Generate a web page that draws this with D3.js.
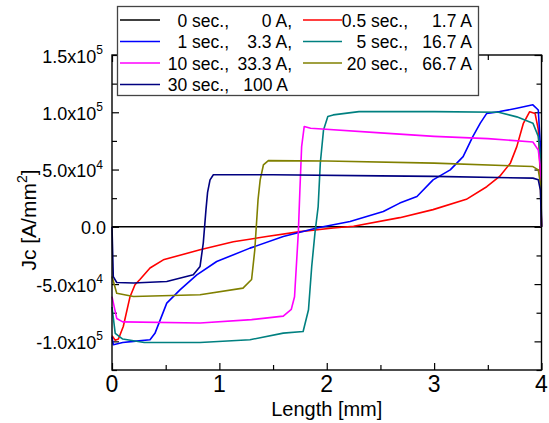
<!DOCTYPE html>
<html>
<head>
<meta charset="utf-8">
<script src="https://cdn.jsdelivr.net/npm/d3@7"></script>
<style>
  body { margin: 0; background: #fff; }
  text { font-family: "Liberation Sans", Arial, sans-serif; fill: #000; }
</style>
</head>
<body>
<svg id="chart"></svg>
<script>
// values, Jc in A/mm^2, length in mm
var seriesNames = ["0 sec.", "0.5 sec.", "1 sec.", "5 sec.", "10 sec.", "20 sec.", "30 sec."];
var seriesColors = ["#000000", "#ff0000", "#0000ff", "#008080", "#ff00ff", "#808000", "#000080"];
var legendTime = ["0 sec.,", "0.5 sec.,", "1 sec.,", "5 sec.,", "10 sec.,", "20 sec.,", "30 sec.,"];
var legendCurrent = ["0 A,", "1.7 A", "3.3 A,", "16.7 A", "33.3 A,", "66.7 A", "100 A"];

var x0s = [0, 4];
var y0s = [0, 0];

var x05 = [0, 0.03, 0.06, 0.105, 0.168, 0.214, 0.26, 0.354, 0.478, 0.82, 1.13, 1.44, 1.75, 2.06, 2.25, 2.68, 2.99, 3.3, 3.49, 3.61, 3.71, 3.77, 3.83, 3.89, 3.94, 3.97, 3.99, 4.0];
var y05 = [-95000, -99000, -98000, -87000, -61000, -50600, -46000, -36000, -28800, -20000, -13000, -8500, -4200, -1000, 500, 8000, 15000, 24000, 35000, 44000, 55600, 70000, 90000, 100500, 99000, 85000, 41000, 0];

var x1s = [0, 0.012, 0.1, 0.2, 0.354, 0.40, 0.51, 0.633, 0.79, 0.975, 1.285, 1.595, 1.906, 2.217, 2.527, 2.68, 2.84, 2.99, 3.15, 3.27, 3.36, 3.43, 3.49, 3.61, 3.77, 3.92, 3.97, 3.99, 4.0];
var y1s = [-96000, -103000, -101000, -100000, -98600, -93000, -66600, -55000, -42000, -30300, -18600, -8500, -1100, 4600, 13400, 20700, 26500, 41000, 49700, 61300, 78800, 90500, 99000, 100600, 103500, 106500, 102000, 70000, 0];

var x5s = [0, 0.03, 0.1, 0.3, 0.82, 1.285, 1.595, 1.78, 1.83, 1.86, 1.89, 1.92, 1.94, 1.97, 2.01, 2.06, 2.3, 3.0, 3.6, 3.77, 3.92, 3.97, 3.99, 4.0];
var y5s = [-70000, -93000, -98000, -101000, -101000, -98600, -92800, -91400, -72400, -34600, -5500, 17700, 55600, 84600, 96300, 97700, 100600, 100600, 100000, 96000, 90500, 79000, 61000, 0];

var x10s = [0, 0.044, 0.1, 0.82, 1.3, 1.595, 1.67, 1.70, 1.735, 1.75, 1.766, 1.79, 1.85, 2.5, 3.0, 3.5, 3.92, 3.97, 3.99, 4.0];
var y10s = [-61000, -80000, -83000, -84000, -81000, -78000, -72000, -61000, -5500, 32300, 70000, 87500, 86000, 82000, 79000, 77000, 74000, 67000, 52600, 0];

var x20s = [0, 0.044, 0.2, 0.82, 1.22, 1.30, 1.33, 1.36, 1.38, 1.41, 1.456, 2.0, 3.0, 3.92, 3.97, 3.99, 4.0];
var y20s = [-43400, -58000, -60800, -59300, -53500, -46000, -20000, 23600, 41000, 54000, 57800, 57500, 55600, 52600, 49700, 38000, 0];

var x30s = [0, 0.012, 0.044, 0.2, 0.51, 0.757, 0.82, 0.85, 0.875, 0.89, 0.913, 0.944, 1.5, 2.5, 3.0, 3.92, 3.97, 3.99, 4.0];
var y30s = [0, -43400, -48600, -49000, -47700, -41900, -34600, -14200, 14800, 30000, 41000, 45400, 45400, 44500, 44000, 42500, 41000, 32000, 0];

var seriesX = [x0s, x05, x1s, x5s, x10s, x20s, x30s];
var seriesY = [y0s, y05, y1s, y5s, y10s, y20s, y30s];

var yTicks = [-100000, -50000, 0, 50000, 100000, 150000];
var yTickMain = ["-1.0x10", "-5.0x10", "0.0", "5.0x10", "1.0x10", "1.5x10"];
var yTickExp = ["5", "4", "", "4", "5", "5"];
var xTicks = [0, 1, 2, 3, 4];

var width = 549, height = 423;
var margin = { left: 112, right: 7.5, top: 55, bottom: 53 };

var svg = d3.select("#chart").attr("width", width).attr("height", height);

var x = d3.scaleLinear().domain([0, 4]).range([margin.left, width - margin.right]);
var y = d3.scaleLinear().domain([-125000, 150000]).range([height - margin.bottom, margin.top]);

// minor and major ticks, all pointing inward
var xMinor = d3.range(0.5, 4, 1);
var yMinor = d3.range(-125000, 150001, 50000);

function noDomain(g) { g.select(".domain").remove(); }

svg.append("g")
    .attr("transform", "translate(0," + y.range()[0] + ")")
    .call(d3.axisBottom(x).tickValues(xTicks).tickSize(-7).tickFormat(""))
    .call(noDomain);
svg.append("g")
    .attr("transform", "translate(0," + y.range()[0] + ")")
    .call(d3.axisBottom(x).tickValues(xMinor).tickSize(-5).tickFormat(""))
    .call(noDomain);
svg.append("g")
    .attr("transform", "translate(0," + y.range()[1] + ")")
    .call(d3.axisTop(x).tickValues(xTicks).tickSize(-7).tickFormat(""))
    .call(noDomain);
svg.append("g")
    .attr("transform", "translate(0," + y.range()[1] + ")")
    .call(d3.axisTop(x).tickValues(xMinor).tickSize(-5).tickFormat(""))
    .call(noDomain);

svg.append("g")
    .attr("transform", "translate(" + x.range()[0] + ",0)")
    .call(d3.axisLeft(y).tickValues(yTicks).tickSize(-7).tickFormat(""))
    .call(noDomain);
svg.append("g")
    .attr("transform", "translate(" + x.range()[0] + ",0)")
    .call(d3.axisLeft(y).tickValues(yMinor).tickSize(-5).tickFormat(""))
    .call(noDomain);
svg.append("g")
    .attr("transform", "translate(" + x.range()[1] + ",0)")
    .call(d3.axisRight(y).tickValues(yTicks).tickSize(-7).tickFormat(""))
    .call(noDomain);
svg.append("g")
    .attr("transform", "translate(" + x.range()[1] + ",0)")
    .call(d3.axisRight(y).tickValues(yMinor).tickSize(-5).tickFormat(""))
    .call(noDomain);

svg.selectAll(".tick line").attr("stroke", "#000").attr("stroke-width", 1.2);

// data lines
var line = d3.line()
    .x(function (d) { return x(d[0]); })
    .y(function (d) { return y(d[1]); });

seriesNames.forEach(function (name, i) {
    var pts = seriesX[i].map(function (v, j) { return [v, seriesY[i][j]]; });
    svg.append("path")
        .datum(pts)
        .attr("class", "series")
        .attr("fill", "none")
        .attr("stroke", seriesColors[i])
        .attr("stroke-width", 1.6)
        .attr("stroke-linejoin", "round")
        .attr("d", line);
});

// frame
svg.append("rect")
    .attr("x", x.range()[0])
    .attr("y", y.range()[1])
    .attr("width", x.range()[1] - x.range()[0])
    .attr("height", y.range()[0] - y.range()[1])
    .attr("fill", "none")
    .attr("stroke", "#000")
    .attr("stroke-width", 1.4);

// tick labels
var xLab = svg.append("g");
xTicks.forEach(function (t) {
    xLab.append("text")
        .attr("x", x(t))
        .attr("y", 392)
        .attr("text-anchor", "middle")
        .style("font-size", "23px")
        .text(t);
});

var yLab = svg.append("g");
yTicks.forEach(function (t, i) {
    var txt = yLab.append("text")
        .attr("x", yTickExp[i] ? 103 : 106)
        .attr("y", y(t) + 7.5)
        .attr("text-anchor", "end")
        .style("font-size", "18px");
    txt.append("tspan").text(yTickMain[i]);
    if (yTickExp[i]) {
        txt.append("tspan")
            .attr("dy", -8.5)
            .style("font-size", "12px")
            .text(yTickExp[i]);
    }
});

// axis titles
svg.append("text")
    .attr("x", (x.range()[0] + x.range()[1]) / 2)
    .attr("y", 416)
    .attr("text-anchor", "middle")
    .style("font-size", "20px")
    .text("Length [mm]");

var yTitle = svg.append("text")
    .attr("transform", "translate(36,220) rotate(-90)")
    .attr("text-anchor", "middle")
    .style("font-size", "21px");
yTitle.append("tspan").text("Jc [A/mm");
yTitle.append("tspan").attr("dy", -9).style("font-size", "14px").text("2");
yTitle.append("tspan").attr("dy", 9).text("]");

// legend
var legend = svg.append("g");
legend.append("rect")
    .attr("x", 117.5)
    .attr("y", 6.5)
    .attr("width", 361)
    .attr("height", 89)
    .attr("fill", "#fff")
    .attr("stroke", "#444")
    .attr("stroke-width", 1.3);

var colLine = [[120, 160], [303, 342]];
var colTime = [229, 408];
var colCurr = [292, 472];

seriesNames.forEach(function (name, i) {
    var col = i % 2, row = Math.floor(i / 2);
    var ly = 20 + row * 21.5;
    legend.append("line")
        .attr("x1", colLine[col][0]).attr("x2", colLine[col][1])
        .attr("y1", ly).attr("y2", ly)
        .attr("stroke", seriesColors[i])
        .attr("stroke-width", 1.6);
    legend.append("text")
        .attr("x", colTime[col])
        .attr("y", ly + 6.5)
        .attr("text-anchor", "end")
        .style("font-size", "17.5px")
        .text(legendTime[i]);
    var hasComma = legendCurrent[i].slice(-1) === ",";
    legend.append("text")
        .attr("x", colCurr[col] - (col === 0 && !hasComma ? 4 : 0))
        .attr("y", ly + 6.5)
        .attr("text-anchor", "end")
        .style("font-size", "17.5px")
        .text(legendCurrent[i]);
});
</script>
</body>
</html>
